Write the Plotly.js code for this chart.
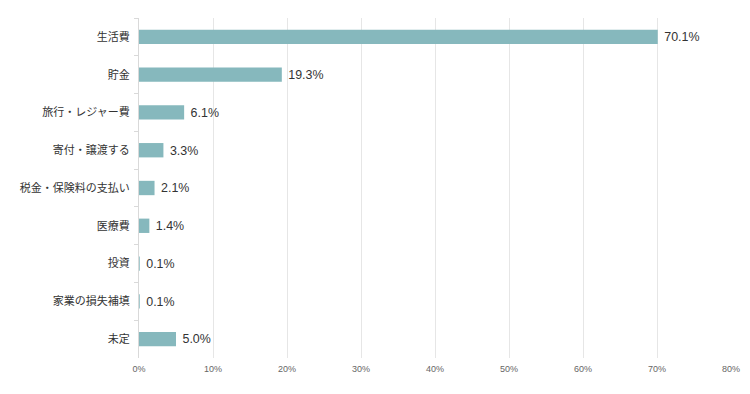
<!DOCTYPE html>
<html><head><meta charset="utf-8">
<script src="https://cdn.plot.ly/plotly-3.0.1.min.js"></script>
<style>html,body{margin:0;padding:0;background:#fff;}</style>
</head><body>
<div id="chart" style="width:750px;height:394px;"></div>
<script>
const categories = ["生活費","貯金","旅行・レジャー費","寄付・譲渡する","税金・保険料の支払い","医療費","投資","家業の損失補填","未定"];
const values = [70.1, 19.3, 6.1, 3.3, 2.1, 1.4, 0.1, 0.1, 5.0];
const xTickVals = [0,10,20,30,40,50,60,70,80];
const xTickText = xTickVals.map(v => v + "%");

const font = '"Liberation Sans", "Noto Sans CJK JP", sans-serif';
const jpFont = '"Noto Sans CJK JP", sans-serif';
Plotly.newPlot("chart", [{
  type: "bar",
  orientation: "h",
  y: categories,
  x: values,
  width: 0.38,
  marker: {color: "#86b8bd"},
  text: values.map(v => "\u00a0" + v.toFixed(1) + "%"),
  textposition: "outside",
  cliponaxis: false,
  textfont: {family: font, size: 13, color: "#333"},
  hoverinfo: "none"
}], {
  width: 750, height: 394,
  margin: {l: 139, r: 19, t: 18, b: 36},
  paper_bgcolor: "#fff", plot_bgcolor: "#fff",
  showlegend: false,
  xaxis: {
    range: [0, 80], tickvals: xTickVals, ticktext: xTickText,
    showgrid: true, gridcolor: "#e6e6e6", gridwidth: 1,
    zeroline: false, showline: false,
    ticks: "", ticklabelstandoff: 4,
    tickfont: {family: font, size: 9, color: "#666"},
    fixedrange: true
  },
  yaxis: {
    autorange: "reversed", type: "category",
    showline: true, linecolor: "#d9d9d9", linewidth: 1,
    ticks: "outside", tickson: "boundaries", ticklen: 4, tickcolor: "#d9d9d9",
    ticklabelstandoff: 6,
    showgrid: false,
    tickfont: {family: jpFont, size: 11, color: "#333"},
    fixedrange: true
  }
}, {displayModeBar: false, staticPlot: true});
</script>
</body></html>
